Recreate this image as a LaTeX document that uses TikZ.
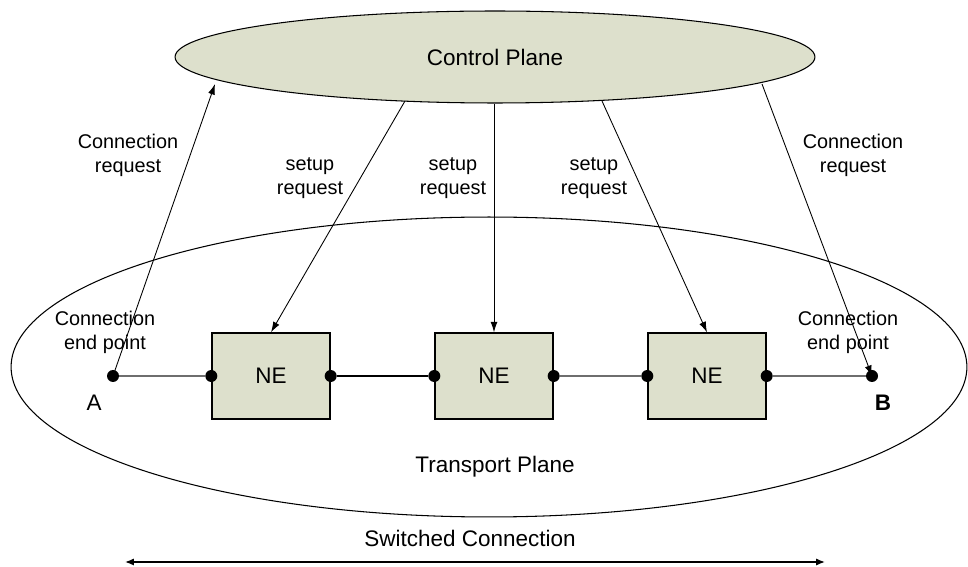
\documentclass[tikz,border=0pt]{standalone}
\usepackage{fontspec}
\setmainfont{Liberation Sans}
\usetikzlibrary{shapes.geometric,arrows.meta}
\definecolor{planefill}{RGB}{221,224,204}
\definecolor{thinline}{RGB}{110,110,110}
\begin{document}
\begin{tikzpicture}[x=0.02cm,y=-0.02cm,
  plane/.style={ellipse,draw=black,line width=0.6pt,inner sep=0pt},
  nebox/.style={rectangle,draw=black,line width=0.8pt,fill=planefill,minimum width=2.36cm,minimum height=1.72cm,font=\fontsize{12.8}{15}\selectfont},
  dot/.style={circle,fill=black,inner sep=0pt,minimum size=0.24cm},
  lbl/.style={align=center,font=\fontsize{11.3}{13.6}\selectfont},
  big/.style={font=\fontsize{12.8}{15}\selectfont},
  arr/.style={-{Latex[length=6pt,width=4pt]},line width=0.5pt},
  link/.style={line width=0.6pt,draw=thinline}]
\useasboundingbox (0,0) rectangle (968,567);
% planes
\node[plane,fill=planefill,minimum width=12.8cm,minimum height=1.84cm] (cp) at (495,57) {};
\node[big] (cpl) at (495,57) {Control Plane};
\node[plane,minimum width=19.12cm,minimum height=6cm] (tp) at (489,367) {};
\node[big] (tpl) at (495,467) {Transport Plane};
% boxes
\node[nebox] (n1) at (271,376) {NE};
\node[nebox] (n2) at (494,376) {NE};
\node[nebox] (n3) at (707,376) {NE};
% dots
\node[dot] (a) at (113,376) {};
\node[dot] (b) at (872,376) {};
\node[dot] (n1w) at (n1.west) {};
\node[dot] (n1e) at (n1.east) {};
\node[dot] (n2w) at (n2.west) {};
\node[dot] (n2e) at (n2.east) {};
\node[dot] (n3w) at (n3.west) {};
\node[dot] (n3e) at (n3.east) {};
% links
\draw[link] (a) -- (n1w);
\draw[line width=1.2pt] (n1e) -- (n2w);
\draw[link] (n2e) -- (n3w);
\draw[link] (n3e) -- (b);
% control plane coordinates
\coordinate (cpa) at (215,84);
\coordinate (cpb) at (762,84);
\coordinate (cs1) at (405,101);
\coordinate (cs2) at (494,104);
\coordinate (cs3) at (602,101);
% arrows
\draw[arr] (a.center) -- (cpa);
\draw[arr] (cpb) -- (b.center);
\draw[arr] (cs1) -- (n1.north);
\draw[arr] (cs2) -- (n2.north);
\draw[arr] (cs3) -- (n3.north);
% labels
\node[lbl] (l1) at (128,155) {Connection\\request};
\node[lbl] (l2) at (853,155) {Connection\\request};
\node[lbl] (s1) at (310,178) {setup\\request};
\node[lbl] (s2) at (453,178) {setup\\request};
\node[lbl] (s3) at (594,178) {setup\\request};
\node[lbl] (e1) at (105,332) {Connection\\end point};
\node[lbl] (e2) at (848,332) {Connection\\end point};
\node[big] (al) at (94,403) {A};
\node[big,font=\fontsize{12.8}{15}\selectfont\bfseries] (bl) at (883,403) {B};
% switched connection
\node[big] (sc) at (470,538) {Switched Connection};
\coordinate (sl) at (125,562);
\coordinate (sr) at (825,562);
\draw[{Latex[length=5pt,width=4pt]}-{Latex[length=5pt,width=4pt]},line width=0.8pt] (sl) -- (sr);
\end{tikzpicture}
\end{document}
